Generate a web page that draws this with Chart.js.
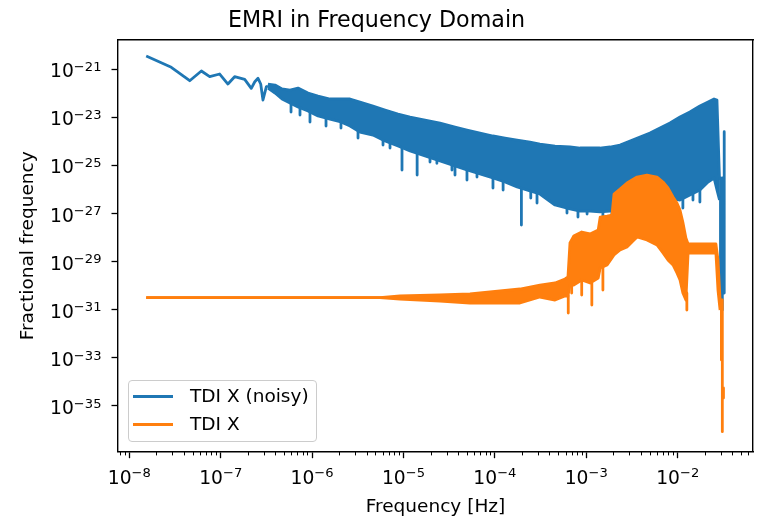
<!DOCTYPE html>
<html>
<head>
<meta charset="utf-8">
<script src="https://cdn.jsdelivr.net/npm/chart.js@4.4.1/dist/chart.umd.min.js"></script>
<style>
  html, body { margin: 0; padding: 0; background: #fff; }
  #wrap { position: relative; width: 757px; height: 519px; }
  #legend {
    position: absolute; left: 128px; top: 380px; width: 189px; height: 62px;
    box-sizing: border-box; border: 1px solid #cccccc; border-radius: 4px;
    background: rgba(255, 255, 255, 0.8);
    font-family: "DejaVu Sans", sans-serif; font-size: 18.5px; color: #000;
  }
  #legend .item { position: absolute; left: 0; height: 22px; line-height: 22px; white-space: nowrap; }
  #legend .swatch { position: absolute; left: 4px; top: 9.5px; width: 40px; height: 3px; }
  #legend .lbl { position: absolute; left: 61px; top: 0; }
  #ticks { position: absolute; left: 0; top: 0; width: 757px; height: 519px; pointer-events: none; }
  .tick {
    position: absolute; white-space: nowrap; color: #000;
    font-family: "DejaVu Sans", sans-serif; font-size: 18.7px; line-height: 18.7px;
  }
  .tick .sup { font-size: 13.1px; position: relative; top: -6.5px; }
</style>
</head>
<body>
<div id="wrap">
  <canvas id="grafica" width="757" height="519"></canvas>
  <div id="ticks"></div>
  <div id="legend"></div>
</div>
<script>
// valores (frecuencia en Hz, amplitud adimensional)
const noisyLabel = 'TDI X (noisy)';
const cleanLabel = 'TDI X';

const noisyEarlyFreq = [1.53e-8, 2.88e-8, 4.58e-8, 6.14e-8, 7.58e-8, 9.75e-8, 1.20e-7, 1.42e-7,
  1.83e-7, 2.16e-7, 2.36e-7, 2.56e-7, 2.74e-7, 2.90e-7, 3.16e-7, 3.29e-7];
const noisyEarlyAmp = [3.47e-21, 1.18e-21, 3.27e-22, 8.26e-22, 4.79e-22, 6.20e-22, 2.38e-22, 4.79e-22,
  3.73e-22, 1.58e-22, 2.96e-22, 4.11e-22, 2.38e-22, 5.15e-23, 1.84e-22, 1.97e-22];

const noisyFreq = [3.29e-7, 3.93e-7, 4.69e-7, 5.73e-7, 7.01e-7, 9.02e-7, 1.16e-6, 1.57e-6, 2.07e-6,
  2.60e-6, 3.34e-6, 4.64e-6, 6.28e-6, 8.71e-6, 1.18e-5, 1.72e-5, 2.51e-5, 3.66e-5, 4.95e-5, 6.87e-5,
  9.53e-5, 1.29e-4, 1.75e-4, 2.42e-4, 3.11e-4, 4.55e-4, 6.63e-4, 8.54e-4, 1.10e-3, 1.41e-3, 1.82e-3,
  2.34e-3, 3.01e-3, 3.87e-3, 4.98e-3, 6.40e-3, 8.24e-3, 1.06e-2, 1.36e-2, 1.75e-2, 2.15e-2, 2.50e-2,
  2.69e-2, 2.87e-2];
const noisyUpper = [2.38e-22, 2.16e-22, 1.48e-22, 1.34e-22, 1.62e-22, 1.01e-22, 7.55e-23, 5.67e-23, 5.67e-23,
  5.67e-23, 4.26e-23, 2.90e-23, 1.98e-23, 1.35e-23, 1.01e-23, 7.61e-24, 5.71e-24, 3.89e-24, 2.92e-24, 2.19e-24,
  1.65e-24, 1.36e-24, 1.12e-24, 9.27e-25, 7.66e-25, 6.32e-25, 5.75e-25, 5.22e-25, 5.22e-25, 5.22e-25, 5.75e-25,
  6.96e-25, 1.02e-24, 1.50e-24, 2.19e-24, 3.54e-24, 5.71e-24, 1.01e-23, 1.64e-23, 2.90e-23, 4.26e-23, 5.67e-23,
  5.15e-23, 2.45e-26];
const noisyLower = [1.62e-22, 1.01e-22, 5.67e-23, 3.87e-23, 2.64e-23, 1.80e-23, 1.12e-23, 8.37e-24, 6.28e-24,
  4.28e-24, 2.41e-24, 1.81e-24, 1.02e-24, 6.32e-25, 3.92e-25, 2.43e-25, 1.51e-25, 9.33e-26, 6.37e-26, 4.34e-26,
  2.96e-26, 2.02e-26, 1.25e-26, 8.54e-27, 6.41e-27, 2.24e-27, 1.53e-27, 1.26e-27, 1.26e-27, 1.15e-27, 1.26e-27,
  2.24e-27, 3.61e-27, 5.83e-27, 7.76e-27, 9.40e-27, 4.37e-27, 3.61e-27, 5.83e-27, 9.40e-27, 2.02e-26, 2.96e-26,
  9.40e-27, 3.61e-27];

const noisySpikeFreq = [5.88e-7, 7.37e-7, 9.48e-7, 1.42e-6, 2.07e-6, 3.18e-6, 5.97e-6, 7.12e-6, 9.63e-6, 1.41e-5,
  1.95e-5, 2.32e-5, 3.39e-5, 3.66e-5, 4.95e-5, 6.37e-5, 9.53e-5, 1.23e-4, 1.95e-4, 2.47e-4, 2.89e-4, 6.15e-4,
  8.11e-4, 1.02e-3, 1.52e-3, 1.91e-3, 1.14e-2, 1.47e-2, 1.75e-2, 2.94e-2, 3.08e-2, 3.23e-2];
const noisySpikeTop = [4.26e-23, 2.90e-23, 1.98e-23, 1.01e-23, 6.91e-24, 2.92e-24, 1.24e-24, 9.27e-25, 6.32e-25, 3.56e-25,
  2.21e-25, 1.82e-25, 1.13e-25, 1.03e-25, 7.00e-26, 5.26e-26, 3.26e-26, 2.22e-26, 1.52e-26, 1.03e-26, 7.05e-27, 1.68e-27,
  1.39e-27, 1.39e-27, 1.26e-27, 1.39e-27, 3.97e-27, 7.05e-27, 9.40e-27, 2.96e-26, 2.96e-26, 2.48e-24];
const noisySpikeBottom = [1.64e-23, 1.23e-23, 6.28e-24, 4.28e-24, 3.54e-24, 1.36e-24, 6.96e-25, 5.22e-25, 6.37e-26, 3.95e-26,
  1.37e-25, 1.21e-25, 6.37e-26, 3.95e-26, 2.45e-26, 3.26e-26, 1.14e-26, 9.40e-27, 3.30e-28, 4.37e-27, 2.71e-27, 1.04e-27,
  7.10e-28, 9.46e-28, 7.81e-28, 8.60e-28, 1.68e-27, 3.61e-27, 2.98e-27, 1.57e-31, 9.72e-32, 4.94e-31];

const cleanFreq = [1.53e-8, 5.53e-6, 9.16e-6, 2.51e-5, 5.34e-5, 1.14e-4, 1.88e-4, 3.11e-4, 4.55e-4, 5.85e-4,
  6.30e-4, 6.63e-4, 7.28e-4, 8.91e-4, 1.10e-3, 1.35e-3, 1.42e-3, 1.69e-3, 1.91e-3, 2.01e-3, 2.34e-3, 2.79e-3,
  3.59e-3, 4.61e-3, 5.94e-3, 6.91e-3, 7.83e-3, 8.89e-3, 9.82e-3, 1.06e-2, 1.14e-2, 1.23e-2, 1.30e-2, 1.75e-2,
  2.62e-2, 2.76e-2, 2.91e-2];
const cleanUpper = [3.15e-31, 3.15e-31, 3.71e-31, 4.08e-31, 4.49e-31, 5.98e-31, 7.24e-31, 1.06e-30, 1.29e-30, 1.89e-30,
  2.28e-30, 5.90e-29, 1.15e-28, 1.69e-28, 1.40e-28, 2.05e-28, 7.10e-28, 7.81e-28, 8.60e-28, 6.41e-27, 1.03e-26, 1.84e-26,
  3.26e-26, 3.95e-26, 3.26e-26, 2.02e-26, 1.14e-26, 4.81e-27, 2.71e-27, 1.39e-27, 4.32e-28, 9.52e-29, 5.36e-29, 5.36e-29,
  5.36e-29, 1.16e-29, 2.53e-31];
const cleanLower = [3.15e-31, 3.15e-31, 2.78e-31, 2.30e-31, 1.90e-31, 1.90e-31, 1.90e-31, 3.37e-31, 2.53e-31, 3.71e-31,
  3.71e-31, 1.06e-30, 1.06e-30, 1.71e-30, 1.29e-30, 2.08e-30, 5.40e-30, 7.20e-30, 1.41e-29, 1.87e-29, 3.02e-29, 4.03e-29,
  1.05e-28, 7.87e-29, 4.88e-29, 2.27e-29, 1.16e-29, 7.20e-30, 3.35e-30, 1.71e-30, 4.94e-31, 2.53e-31, 2.27e-29, 2.27e-29,
  2.27e-29, 6.58e-31, 9.72e-32];

const cleanSpikeFreq = [6.35e-4, 6.92e-4, 8.91e-4, 1.15e-3, 1.52e-3, 1.26e-2, 3.01e-2, 3.08e-2, 3.17e-2];
const cleanSpikeTop = [3.71e-31, 1.06e-30, 1.71e-30, 1.29e-30, 7.20e-30, 4.94e-31, 2.53e-31, 2.53e-31, 5.58e-35];
const cleanSpikeBottom = [7.30e-32, 4.94e-31, 4.08e-31, 1.57e-31, 6.58e-31, 9.72e-32, 8.13e-34, 8.54e-37, 2.15e-35];

const xTickValues = [1e-8, 1e-7, 1e-6, 1e-5, 1e-4, 1e-3, 1e-2];
const yTickValues = [1e-35, 1e-33, 1e-31, 1e-29, 1e-27, 1e-25, 1e-23, 1e-21];

const X_MIN = 7.52e-9, X_MAX = 6.67e-2;
const Y_MIN = 1.26e-37, Y_MAX = 1.60e-20;

const azul = '#1f77b4';
const naranja = '#ff7f0e';

function puntos(xs, ys) {
  return xs.map((x, i) => ({ x: x, y: ys[i] }));
}

// cada pico es un segmento vertical, separado por un hueco
function picos(xs, tops, bottoms) {
  const out = [];
  xs.forEach((x, i) => {
    out.push({ x: x, y: tops[i] }, { x: x, y: bottoms[i] }, { x: x, y: null });
  });
  return out;
}

function exponente(v) {
  return String(Math.round(Math.log10(v))).replace('-', '\u2212');
}

const minorTicks = [];
for (let e = -9; e <= -2; e++) {
  for (let m = 2; m <= 9; m++) {
    const v = m * Math.pow(10, e);
    if (v >= X_MIN && v <= X_MAX) minorTicks.push({ value: v });
  }
}

// etiquetas 10^n en HTML, colocadas con las escalas del grafico
const etiquetasHtml = {
  id: 'etiquetasHtml',
  afterRender(chart) {
    const cont = document.getElementById('ticks');
    cont.innerHTML = '';
    ['x', 'y'].forEach(id => {
      const s = chart.scales[id];
      s.ticks.forEach(t => {
        const el = document.createElement('div');
        el.className = 'tick';
        el.innerHTML = '10<span class="sup">' + exponente(t.value) + '</span>';
        const p = s.getPixelForValue(t.value);
        if (id === 'x') {
          el.style.left = p + 'px';
          el.style.top = (s.top + 17) + 'px';
          el.style.transform = 'translateX(-50%)';
        } else {
          el.style.right = (chart.width - (s.right - 16.5)) + 'px';
          el.style.top = (p - 6.8) + 'px';
        }
        cont.appendChild(el);
      });
    });
  }
};

const linea = { pointRadius: 0, borderWidth: 2.8, borderJoinStyle: 'round', tension: 0, spanGaps: false };

Chart.defaults.font.family = '"DejaVu Sans", sans-serif';
Chart.defaults.color = '#000';

const ctx = document.getElementById('grafica').getContext('2d');
const grafica = new Chart(ctx, {
  type: 'line',
  data: {
    datasets: [
      Object.assign({ label: noisyLabel, data: puntos(noisyEarlyFreq, noisyEarlyAmp), borderColor: azul, fill: false, order: 1 }, linea),
      Object.assign({ data: puntos(noisyFreq, noisyUpper), borderColor: azul, fill: false, order: 1 }, linea),
      Object.assign({ data: puntos(noisyFreq, noisyLower), borderColor: azul, backgroundColor: azul, fill: '-1', order: 1 }, linea),
      Object.assign({ data: picos(noisySpikeFreq, noisySpikeTop, noisySpikeBottom), borderColor: azul, fill: false, order: 1 }, linea),
      Object.assign({ label: cleanLabel, data: puntos(cleanFreq, cleanUpper), borderColor: naranja, fill: false, order: 0 }, linea),
      Object.assign({ data: puntos(cleanFreq, cleanLower), borderColor: naranja, backgroundColor: naranja, fill: '-1', order: 0 }, linea),
      Object.assign({ data: picos(cleanSpikeFreq, cleanSpikeTop, cleanSpikeBottom), borderColor: naranja, fill: false, order: 0 }, linea)
    ]
  },
  plugins: [etiquetasHtml],
  options: {
    responsive: false,
    animation: false,
    layout: { padding: { left: 0, right: 4, top: 0, bottom: 0 } },
    plugins: {
      legend: { display: false },
      tooltip: { enabled: false },
      title: {
        display: true,
        text: 'EMRI in Frequency Domain',
        font: { size: 22.2, weight: 'normal' },
        color: '#000',
        padding: { top: 8, bottom: 5.4 }
      }
    },
    scales: {
      x: {
        type: 'logarithmic', position: 'bottom', weight: 1,
        min: X_MIN, max: X_MAX,
        afterBuildTicks: s => { s.ticks = xTickValues.map(v => ({ value: v })); },
        afterFit: s => { s.height = 67.3; },
        ticks: { display: false, autoSkip: false },
        grid: { drawOnChartArea: false, tickLength: 6.5, tickWidth: 1.3, color: '#000' },
        border: { color: '#000', width: 1.4 },
        title: { display: true, text: 'Frequency [Hz]', font: { size: 18.5 }, color: '#000', padding: { top: 0, bottom: 1 } }
      },
      xMinor: {
        type: 'logarithmic', position: 'bottom', weight: 0,
        min: X_MIN, max: X_MAX,
        afterBuildTicks: s => { s.ticks = minorTicks.slice(); },
        afterFit: s => { s.height = 0; },
        ticks: { display: false },
        grid: { drawOnChartArea: false, tickLength: 3.7, tickWidth: 1, color: '#000' },
        border: { display: false }
      },
      xTop: {
        type: 'linear', position: 'top', min: 0, max: 1,
        afterFit: s => { s.height = 0; },
        ticks: { display: false },
        grid: { display: false },
        border: { color: '#000', width: 1.4 }
      },
      y: {
        type: 'logarithmic', position: 'left',
        min: Y_MIN, max: Y_MAX,
        afterBuildTicks: s => { s.ticks = yTickValues.map(v => ({ value: v })); },
        afterFit: s => { s.width = 118; },
        ticks: { display: false, autoSkip: false },
        grid: { drawOnChartArea: false, tickLength: 6.5, tickWidth: 1.3, color: '#000' },
        border: { color: '#000', width: 1.4 },
        title: { display: true, text: 'Fractional frequency', font: { size: 18.5 }, color: '#000', padding: { top: 17, bottom: 0 } }
      },
      yRight: {
        type: 'linear', position: 'right', min: 0, max: 1,
        afterFit: s => { s.width = 0; },
        ticks: { display: false },
        grid: { display: false },
        border: { color: '#000', width: 1.4 }
      }
    }
  }
});

// leyenda en HTML a partir de los datasets con etiqueta
function leyenda(chart) {
  const cont = document.getElementById('legend');
  cont.innerHTML = '';
  chart.data.datasets.filter(d => d.label).forEach((d, i) => {
    const item = document.createElement('div');
    item.className = 'item';
    item.style.top = (4 + i * 28) + 'px';
    const sw = document.createElement('span');
    sw.className = 'swatch';
    sw.style.background = d.borderColor;
    const txt = document.createElement('span');
    txt.className = 'lbl';
    txt.textContent = d.label;
    item.appendChild(sw);
    item.appendChild(txt);
    cont.appendChild(item);
  });
}
leyenda(grafica);
</script>
</body>
</html>
